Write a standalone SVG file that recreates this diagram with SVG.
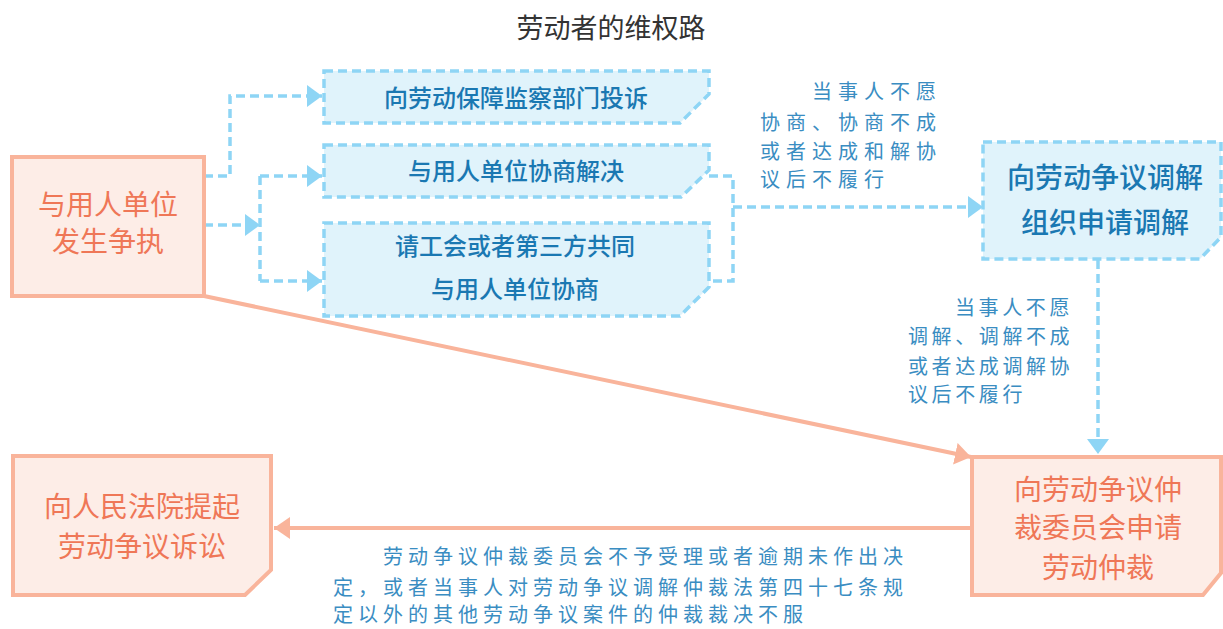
<svg xmlns="http://www.w3.org/2000/svg" width="1223" height="629" viewBox="0 0 1223 629">
<style>
.title{font-family:"Noto Sans CJK SC",sans-serif;font-size:27px;fill:#333333}
.onode{fill:#fdede7;stroke:#f9b49b;stroke-width:4}
.otext{font-family:"Noto Sans CJK SC",sans-serif;font-size:28px;fill:#ef7757;text-anchor:middle}
.bnode{fill:#e0f3fb;stroke:#8ed5f5;stroke-width:3.5;stroke-dasharray:9 5}
.btext{font-family:"Noto Sans CJK SC",sans-serif;font-size:24px;font-weight:500;fill:#1a78b2;text-anchor:middle}
.btext2{font-family:"Noto Sans CJK SC",sans-serif;font-size:28px;font-weight:500;fill:#1a78b2;text-anchor:middle}
.note{font-family:"Noto Sans CJK SC",sans-serif;font-size:20px;fill:#3a8dc2}
.bl{fill:none;stroke:#8ed5f5;stroke-width:3.5;stroke-dasharray:9 5}
.ol{fill:none;stroke:#f9b49b;stroke-width:4}
</style>
<defs>
<marker id="ab" markerUnits="userSpaceOnUse" markerWidth="15" markerHeight="22" refX="15" refY="11" orient="auto"><path d="M0,0 L15,11 L0,22 z" fill="#8ed5f5"/></marker>
<marker id="ao" markerUnits="userSpaceOnUse" markerWidth="16" markerHeight="22" refX="16" refY="11" orient="auto"><path d="M0,0 L16,11 L0,22 z" fill="#f9b49b"/></marker>
</defs>
<text class="title" x="611" y="38" text-anchor="middle">劳动者的维权路</text>

<g id="connectors">
<path class="bl" d="M204,176 H230 V96 H322" marker-end="url(#ab)"/>
<path class="bl" d="M204,225 H260" marker-end="url(#ab)"/>
<path class="bl" d="M260,176 V281"/>
<path class="bl" d="M260,176 H322" marker-end="url(#ab)"/>
<path class="bl" d="M260,281 H322" marker-end="url(#ab)"/>
<path class="bl" d="M709,176 H733 V281 H709"/>
<path class="bl" d="M733,207 H983" marker-end="url(#ab)"/>
<path class="bl" d="M1098,260 V454" marker-end="url(#ab)"/>
<path class="ol" d="M204,296 L971,457" marker-end="url(#ao)"/>
<path class="ol" d="M972,528 H274" marker-end="url(#ao)"/>
</g>

<g id="node-dispute">
<rect class="onode" x="12" y="157" width="192" height="139"/>
<text class="otext" x="108" y="215">与用人单位</text>
<text class="otext" x="108" y="252">发生争执</text>
</g>

<g id="node-complain">
<path class="bnode" d="M324,71 H709 V94 L680,123 H324 Z"/>
<text class="btext" x="516" y="107">向劳动保障监察部门投诉</text>
</g>

<g id="node-negotiate">
<path class="bnode" d="M324,145 H709 V170 L681,197 H324 Z"/>
<text class="btext" x="516" y="180">与用人单位协商解决</text>
</g>

<g id="node-thirdparty">
<path class="bnode" d="M324,223 H709 V287 L680,316 H324 Z"/>
<text class="btext" x="515" y="255">请工会或者第三方共同</text>
<text class="btext" x="515" y="298">与用人单位协商</text>
</g>

<g id="node-mediation">
<path class="bnode" d="M983,142 H1221 V237 L1200,259 H983 Z"/>
<text class="btext2" x="1105" y="188">向劳动争议调解</text>
<text class="btext2" x="1105" y="233">组织申请调解</text>
</g>

<g id="node-arbitration">
<path class="onode" d="M972,457 H1221 V573 L1203,595 H972 Z"/>
<text class="otext" x="1098" y="500">向劳动争议仲</text>
<text class="otext" x="1098" y="538">裁委员会申请</text>
<text class="otext" x="1098" y="578">劳动仲裁</text>
</g>

<g id="node-court">
<path class="onode" d="M13,456 H271 V570 L245,595 H13 Z"/>
<text class="otext" x="142" y="517">向人民法院提起</text>
<text class="otext" x="142" y="557">劳动争议诉讼</text>
</g>

<g id="notes">
<text class="note" letter-spacing="6"><tspan x="812" y="99">当事人不愿</tspan><tspan x="760" y="130">协商、协商不成</tspan><tspan x="760" y="159">或者达成和解协</tspan><tspan x="760" y="187">议后不履行</tspan></text>
<text class="note" letter-spacing="3.6"><tspan x="955" y="315">当事人不愿</tspan><tspan x="908" y="344">调解、调解不成</tspan><tspan x="908" y="374">或者达成调解协</tspan><tspan x="908" y="402">议后不履行</tspan></text>
<text class="note" letter-spacing="5"><tspan x="383" y="564">劳动争议仲裁委员会不予受理或者逾期未作出决</tspan><tspan x="333" y="595">定，或者当事人对劳动争议调解仲裁法第四十七条规</tspan><tspan x="333" y="622">定以外的其他劳动争议案件的仲裁裁决不服</tspan></text>
</g>
</svg>
